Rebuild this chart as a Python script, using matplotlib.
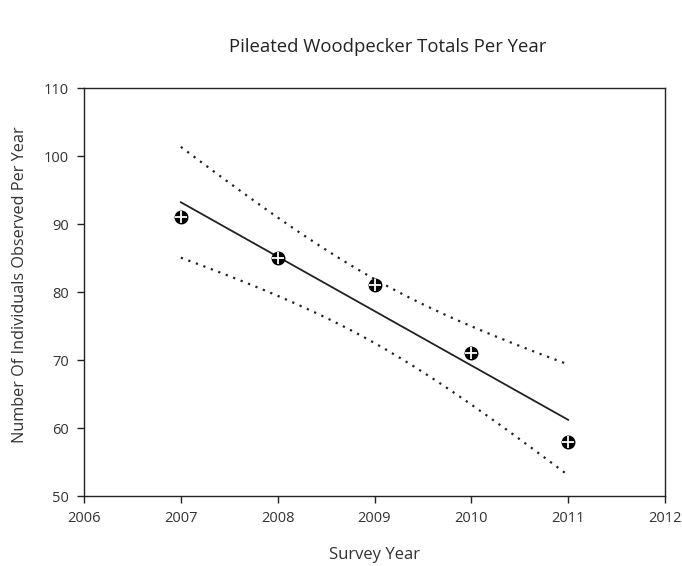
import numpy as np
import matplotlib
matplotlib.use("Agg")
import matplotlib.pyplot as plt

years = [2007, 2008, 2009, 2010, 2011]
totals = [91, 85, 81, 71, 58]
x_ticks = [2006, 2007, 2008, 2009, 2010, 2011, 2012]
y_ticks = [50, 60, 70, 80, 90, 100, 110]
t_crit = 3.182  # 95% two-sided, df = 3

plt.rcParams['font.family'] = ['Open Sans', 'DejaVu Sans']

fig = plt.figure(figsize=(6.82, 5.66), dpi=100)
ax = fig.add_axes([84/682, 1-496/566, (665-84)/682, (496-88)/566])

x = np.array(years, dtype=float)
y = np.array(totals, dtype=float)
slope, intercept = np.polyfit(x, y, 1)
xs = np.linspace(x.min(), x.max(), 100)
fit = slope*xs + intercept
resid = y - (slope*x + intercept)
s = np.sqrt(np.sum(resid**2)/(len(x)-2))
sxx = np.sum((x - x.mean())**2)
half = t_crit * s * np.sqrt(1/len(x) + (xs - x.mean())**2/sxx)

ax.plot(xs, fit, color='#222222', lw=1.3)
ax.plot(xs, fit + half, color='#222222', lw=1.6, linestyle=(0, (1, 2.6)))
ax.plot(xs, fit - half, color='#222222', lw=1.6, linestyle=(0, (1, 2.6)))
ax.plot(x, y, 'o', color='black', markersize=9, zorder=5)
ax.plot(x, y, '+', color='white', markersize=8, markeredgewidth=1.3, zorder=6)

ax.set_xlim(2006, 2012)
ax.set_ylim(50, 110)
ax.set_xticks(x_ticks)
ax.set_yticks(y_ticks)
ax.set_xticklabels([str(t) for t in x_ticks])
ax.tick_params(direction='out', length=5, width=1, labelsize=10.5, colors='#222222', labelcolor='#333333', pad=6)
for sp in ax.spines.values():
    sp.set_linewidth(1.0)
    sp.set_color('#222222')

fig.text(375/682, 1-555/566, 'Survey Year', ha='center', va='center', fontsize=12, color='#333333')
fig.text(20/682, 1-285/566, 'Number Of Individuals Observed Per Year', ha='center', va='center',
         rotation=90, fontsize=11.7, color='#333333')
fig.text(388/682, 1-47/566, 'Pileated Woodpecker Totals Per Year', ha='center', va='center',
         fontsize=13.3, color='#222222')

fig.savefig('out.png', dpi=100)
